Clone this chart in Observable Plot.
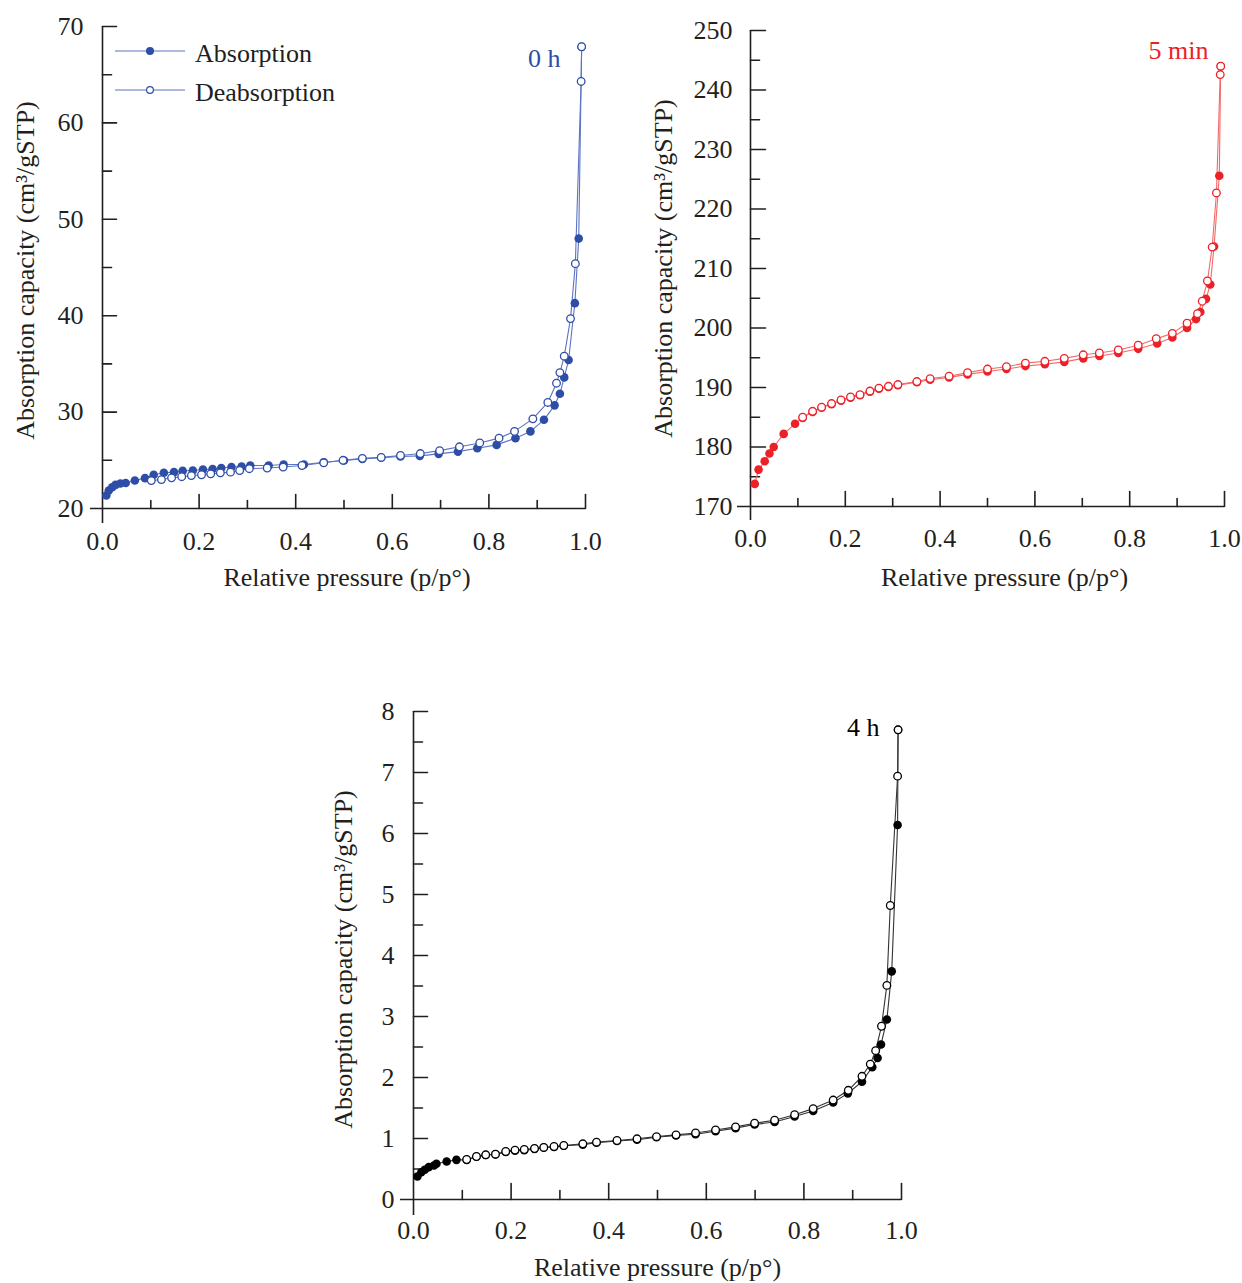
<!DOCTYPE html>
<html><head><meta charset="utf-8">
<script src="https://cdn.jsdelivr.net/npm/d3@7"></script>
<script src="https://cdn.jsdelivr.net/npm/@observablehq/plot@0.6"></script>
<style>
body{margin:0;background:#fff;}
#root{position:relative;width:1242px;height:1283px;overflow:hidden;font-family:'Liberation Serif','Times New Roman',serif;}
.fig{position:absolute;}
.fig svg{overflow:visible;max-width:none;}
</style></head><body><div id="root"></div>
<script>
// ---------- DATA ----------
// 0 h
const p0hAbs = [0.008,0.013,0.020,0.027,0.037,0.048,0.067,0.088,0.106,0.127,0.148,0.166,0.187,0.208,0.228,0.246,0.267,0.288,0.306,0.344,0.375,0.417,0.458,0.500,0.538,0.577,0.617,0.657,0.696,0.736,0.776,0.816,0.855,0.886,0.914,0.936,0.947,0.956,0.965,0.978,0.986,0.992];
const v0hAbs = [21.35,21.87,22.2,22.45,22.6,22.65,22.9,23.15,23.5,23.7,23.77,23.9,23.94,24.05,24.1,24.2,24.3,24.36,24.46,24.46,24.56,24.56,24.8,24.98,25.15,25.26,25.39,25.46,25.67,25.9,26.25,26.6,27.3,28.0,29.2,30.7,31.9,33.6,35.4,41.3,48.0,67.9];
const p0hDes = [0.992,0.991,0.979,0.969,0.956,0.947,0.940,0.922,0.891,0.853,0.821,0.781,0.739,0.698,0.658,0.617,0.577,0.538,0.498,0.458,0.413,0.374,0.341,0.304,0.284,0.265,0.244,0.224,0.205,0.184,0.164,0.143,0.122,0.101];
const v0hDes = [67.9,64.3,45.4,39.7,35.8,34.1,33.0,31.0,29.3,28.0,27.3,26.8,26.4,26.0,25.7,25.5,25.3,25.2,25.0,24.74,24.46,24.3,24.2,24.13,23.94,23.77,23.7,23.6,23.5,23.42,23.3,23.18,23.0,22.9];
// 5 min
const p5mAbs = [0.009,0.017,0.030,0.040,0.049,0.070,0.094,0.110,0.131,0.150,0.171,0.191,0.211,0.231,0.252,0.271,0.291,0.311,0.351,0.379,0.419,0.458,0.500,0.540,0.580,0.621,0.662,0.702,0.736,0.776,0.818,0.858,0.890,0.921,0.940,0.949,0.961,0.970,0.978,0.989,0.992];
const v5mAbs = [173.8,176.2,177.6,178.9,180.0,182.2,183.9,184.9,185.9,186.6,187.2,187.8,188.3,188.7,189.3,189.8,190.1,190.4,190.9,191.3,191.7,192.2,192.7,193.1,193.6,193.9,194.3,194.9,195.3,195.8,196.5,197.4,198.4,200.0,201.5,202.7,204.9,207.3,213.7,225.6,244.0];
const p5mDes = [0.992,0.991,0.983,0.974,0.964,0.953,0.943,0.921,0.890,0.856,0.818,0.776,0.736,0.702,0.662,0.621,0.580,0.540,0.500,0.458,0.419,0.379,0.351,0.311,0.291,0.271,0.252,0.231,0.211,0.191,0.171,0.150,0.131,0.110];
const v5mDes = [244.0,242.6,222.7,213.6,207.9,204.5,202.4,200.8,199.1,198.2,197.1,196.3,195.8,195.5,194.9,194.4,194.1,193.5,193.1,192.5,191.9,191.5,191.0,190.5,190.2,189.9,189.4,188.8,188.4,187.9,187.3,186.7,186.0,185.0];
// 4 h
const p4hAbs = [0.008,0.016,0.023,0.031,0.042,0.047,0.068,0.088,0.109,0.129,0.148,0.168,0.189,0.208,0.227,0.248,0.267,0.288,0.308,0.347,0.375,0.417,0.458,0.498,0.538,0.578,0.619,0.660,0.699,0.740,0.781,0.819,0.860,0.890,0.919,0.940,0.951,0.958,0.970,0.980,0.992,0.993];
const v4hAbs = [0.377,0.447,0.487,0.53,0.557,0.585,0.623,0.65,0.65,0.70,0.73,0.74,0.78,0.80,0.81,0.83,0.85,0.86,0.88,0.90,0.93,0.96,0.98,1.02,1.05,1.07,1.12,1.17,1.23,1.27,1.36,1.45,1.59,1.74,1.93,2.17,2.32,2.54,2.95,3.74,6.14,7.70];
const p4hDes = [0.993,0.992,0.977,0.970,0.959,0.947,0.936,0.919,0.891,0.860,0.819,0.781,0.740,0.699,0.660,0.619,0.578,0.538,0.498,0.458,0.417,0.375,0.347,0.308,0.288,0.267,0.248,0.227,0.208,0.189,0.168,0.148,0.129,0.109];
const v4hDes = [7.70,6.94,4.82,3.51,2.84,2.44,2.22,2.02,1.79,1.63,1.49,1.39,1.30,1.25,1.19,1.14,1.09,1.06,1.03,0.995,0.967,0.94,0.913,0.885,0.869,0.853,0.836,0.82,0.81,0.787,0.743,0.733,0.705,0.656];

// ticks
const xMajorTicks = [0.2,0.4,0.6,0.8,1.0];
const xMinorTicks = [0.1,0.3,0.5,0.7,0.9];
const xLabelTicks = [0,0.2,0.4,0.6,0.8,1.0];
const y0hMajor = [30,40,50,60,70];
const y0hMinor = [25,35,45,55,65];
const y0hLabels = [20,30,40,50,60,70];
const y5mMajor = [180,190,200,210,220,230,240,250];
const y5mMinor = [175,185,195,205,215,225,235,245];
const y5mLabels = [170,180,190,200,210,220,230,240,250];
const y4hMajor = [1,2,3,4,5,6,7,8];
const y4hMinor = [0.5,1.5,2.5,3.5,4.5,5.5,6.5,7.5];
const y4hLabels = [0,1,2,3,4,5,6,7,8];

const seriesNames = ["Absorption","Deabsorption"];
const xTitle = "Relative pressure (p/p°)";
const yTitle = "Absorption capacity (cm³/gSTP)";

// ---------- DRAW ----------
const AX = "#231f20";
const FONT = "'Liberation Serif','Times New Roman',serif";
const tickShape = {draw(ctx, l){ ctx.moveTo(0,0); ctx.lineTo(0,-l); }};
const zip = (P, V) => P.map((p,i) => ({p, v: V[i]}));

function panel(c) {
  const abs = zip(c.absP, c.absV), des = zip(c.desP, c.desV);
  const y0 = c.yDomain[0];
  return Plot.plot({
    width: c.width, height: c.height,
    marginLeft: c.ml, marginRight: c.mr, marginTop: c.mt, marginBottom: c.mb,
    x: {domain: [0, 1]}, y: {domain: c.yDomain},
    axis: null,
    style: {fontFamily: FONT, fontSize: "26px", color: AX, background: "transparent", overflow: "visible"},
    marks: [
      Plot.axisY({ticks: c.yLabels, tickSize: 0, tickPadding: c.padY, tickFormat: d3.format("d"), label: null}),
      Plot.axisX({ticks: xLabelTicks, tickSize: 0, tickPadding: c.padX, tickFormat: d3.format(".1f"), label: null}),
      Plot.ruleX([0], {stroke: AX, strokeWidth: 1.6, insetBottom: -c.extB}),
      Plot.ruleY([y0], {stroke: AX, strokeWidth: 1.6, insetLeft: -c.extL}),
      Plot.vector(xMajorTicks, {x: d => d, y: () => y0, length: c.xMaj, rotate: 0, anchor: "start", shape: tickShape, stroke: AX, strokeWidth: 1.6}),
      Plot.vector(xMinorTicks, {x: d => d, y: () => y0, length: c.xMin, rotate: 0, anchor: "start", shape: tickShape, stroke: AX, strokeWidth: 1.6}),
      Plot.vector(c.yMajor, {x: () => 0, y: d => d, length: c.yMaj, rotate: 90, anchor: "start", shape: tickShape, stroke: AX, strokeWidth: 1.6}),
      Plot.vector(c.yMinor, {x: () => 0, y: d => d, length: c.yMin, rotate: 90, anchor: "start", shape: tickShape, stroke: AX, strokeWidth: 1.6}),
      Plot.text([xTitle], {text: d => d, frameAnchor: "bottom", dx: c.xtDx, dy: c.xtDy, textAnchor: "middle", lineAnchor: "middle", fill: AX}),
      Plot.text([yTitle], {text: d => d, frameAnchor: "left", rotate: -90, dx: c.ytDx, dy: c.ytDy, textAnchor: "middle", lineAnchor: "middle", fill: AX}),
      Plot.text([c.label], {text: d => d, frameAnchor: "top-right", dx: c.lDx, dy: c.lDy, textAnchor: "end", lineAnchor: "middle", fill: c.labelColor}),
      Plot.line(abs, {x: "p", y: "v", stroke: c.lineColor, strokeWidth: 1.1}),
      Plot.line(des, {x: "p", y: "v", stroke: c.lineColor, strokeWidth: 1.1}),
      Plot.dot(abs, {x: "p", y: "v", r: 4.3, fill: c.dotColor, stroke: "none"}),
      Plot.dot(des, {x: "p", y: "v", r: 3.8, fill: "white", stroke: c.dotColor, strokeWidth: 1.3})
    ]
  });
}

const root = document.getElementById("root");
function place(el, left, top) {
  const d = document.createElement("div");
  d.className = "fig"; d.style.left = left + "px"; d.style.top = top + "px";
  d.appendChild(el); root.appendChild(d);
}

const BLUE = "#2e4da6", BLUE_L = "#5c73c4";
const RED = "#ec2027", RED_L = "#f36a6a";

place(panel({
  width: 620, height: 600, ml: 102, mr: 35, mt: 26, mb: 92,
  yDomain: [20, 70], yMajor: y0hMajor, yMinor: y0hMinor, yLabels: y0hLabels,
  xMaj: 14, xMin: 8, yMaj: 14, yMin: 9, extB: 15, extL: 12, padX: 23, padY: 19,
  xtDx: 3, xtDy: 69, ytDx: -77, ytDy: 3,
  label: "0 h", labelColor: BLUE, lDx: -25, lDy: 32,
  absP: p0hAbs, absV: v0hAbs, desP: p0hDes, desV: v0hDes,
  dotColor: BLUE, lineColor: BLUE_L
}), 0, 0);

place(panel({
  width: 622, height: 600, ml: 130, mr: 18, mt: 30, mb: 94,
  yDomain: [170, 250], yMajor: y5mMajor, yMinor: y5mMinor, yLabels: y5mLabels,
  xMaj: 15, xMin: 8, yMaj: 15, yMin: 9, extB: 14, extL: 13, padX: 22, padY: 18,
  xtDx: 17, xtDy: 71, ytDx: -87, ytDy: 0,
  label: "5 min", labelColor: RED, lDx: -16, lDy: 20,
  absP: p5mAbs, absV: v5mAbs, desP: p5mDes, desV: v5mDes,
  dotColor: RED, lineColor: RED_L
}), 620, 0);

place(panel({
  width: 640, height: 643, ml: 113, mr: 39, mt: 71, mb: 84,
  yDomain: [0, 8], yMajor: y4hMajor, yMinor: y4hMinor, yLabels: y4hLabels,
  xMaj: 16, xMin: 9, yMaj: 14, yMin: 9, extB: 16, extL: 13, padX: 21, padY: 19,
  xtDx: 0, xtDy: 68, ytDx: -70, ytDy: 4,
  label: "4 h", labelColor: "#000", lDx: -22, lDy: 16,
  absP: p4hAbs, absV: v4hAbs, desP: p4hDes, desV: v4hDes,
  dotColor: "#000", lineColor: "#333"
}), 300, 640);

// legend (0 h panel)
const lg = d3.create("svg").attr("width", 260).attr("height", 110)
  .style("position", "absolute").style("left", "100px").style("top", "25px").style("overflow", "visible");
seriesNames.forEach((name, i) => {
  const y = 26 + i * 39;
  lg.append("line").attr("x1", 15).attr("x2", 85).attr("y1", y).attr("y2", y).attr("stroke", BLUE_L).attr("stroke-width", 1.2);
  lg.append("circle").attr("cx", 50).attr("cy", y).attr("r", i ? 3.4 : 4)
    .attr("fill", i ? "white" : BLUE).attr("stroke", BLUE).attr("stroke-width", i ? 1.2 : 0);
  lg.append("text").attr("x", 95).attr("y", y + 2).attr("dy", "0.35em")
    .attr("font-family", FONT).attr("font-size", 26).attr("fill", AX).text(name);
});
root.appendChild(lg.node());
</script>
</body></html>
